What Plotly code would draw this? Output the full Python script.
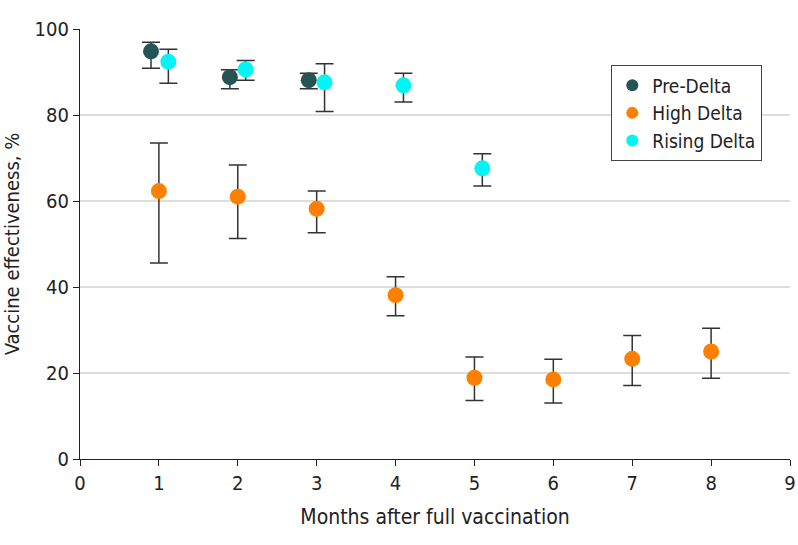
import plotly.graph_objects as go

# Pre-Delta
pre_x = [0.9, 1.9, 2.9]
pre_y = [94.8, 88.8, 88.1]
pre_hi = [96.9, 90.5, 89.7]
pre_lo = [90.9, 86.1, 86.1]

# High Delta
high_x = [1, 2, 3, 4, 5, 6, 7, 8]
high_y = [62.3, 61.0, 58.2, 38.1, 18.9, 18.5, 23.3, 25.0]
high_hi = [73.5, 68.4, 62.3, 42.4, 23.7, 23.2, 28.7, 30.4]
high_lo = [45.6, 51.3, 52.6, 33.3, 13.6, 13.0, 17.1, 18.8]

# Rising Delta
rise_x = [1.12, 2.1, 3.1, 4.1, 5.1]
rise_y = [92.4, 90.6, 87.6, 86.9, 67.6]
rise_hi = [95.3, 92.7, 91.9, 89.7, 71.0]
rise_lo = [87.4, 88.1, 80.8, 83.0, 63.5]

FONT = "DejaVu Sans Condensed, Roboto, sans-serif"

def series(name, x, y, hi, lo, color):
    return go.Scatter(
        x=x, y=y, name=name, mode="markers",
        marker=dict(color=color, size=16, line=dict(width=0)),
        error_y=dict(type="data", symmetric=False,
                     array=[h - v for h, v in zip(hi, y)],
                     arrayminus=[v - l for v, l in zip(y, lo)],
                     color="#333333", thickness=1.5, width=9),
    )

fig = go.Figure()
fig.add_trace(series("Pre-Delta", pre_x, pre_y, pre_hi, pre_lo, "#255454"))
fig.add_trace(series("High Delta", high_x, high_y, high_hi, high_lo, "#ff8000"))
fig.add_trace(series("Rising Delta", rise_x, rise_y, rise_hi, rise_lo, "#00f5f5"))

fig.update_layout(
    width=798, height=545,
    margin=dict(l=80, r=8, t=29, b=86),
    plot_bgcolor="white", paper_bgcolor="white",
    font=dict(family=FONT, size=20, color="#222222"),
    showlegend=True,
    legend=dict(x=0.748, y=0.916, xanchor="left", yanchor="top",
                bordercolor="#444444", borderwidth=1.2, bgcolor="white",
                font=dict(family=FONT, size=19), itemsizing="constant",
                entrywidth=112, entrywidthmode="pixels",
                tracegroupgap=0),
    xaxis=dict(range=[0, 9], tickvals=list(range(10)), showgrid=False,
               zeroline=False, showline=True, linecolor="#222222", linewidth=1.2,
               ticks="outside", ticklen=6, tickcolor="#222222", automargin=False,
               ticklabeloverflow="allow",
               title=dict(text="Months after full vaccination", standoff=15,
                          font=dict(family=FONT, size=21))),
    yaxis=dict(range=[0, 100], tickvals=[0, 20, 40, 60, 80, 100], showgrid=True,
               gridcolor="#dddddd", gridwidth=2, zeroline=False,
               showline=True, linecolor="#222222", linewidth=1.2,
               ticks="outside", ticklen=6, tickcolor="#222222", automargin=False,
               title=dict(text="Vaccine effectiveness, %", standoff=10,
                          font=dict(family=FONT, size=20))),
)

fig.write_html("out.html",
               config={"displayModeBar": False},
               post_script="document.body.style.margin='0';"
                           "document.body.style.overflow='hidden';")
